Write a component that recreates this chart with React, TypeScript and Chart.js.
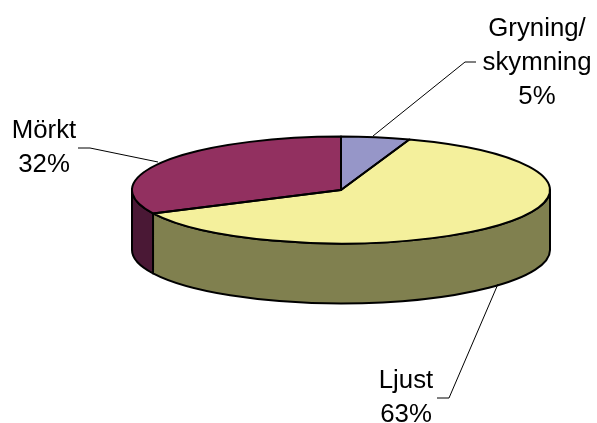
import React, { useEffect, useRef } from "react";
import { Chart, registerables } from "chart.js";

Chart.register(...registerables);

const categories = ["Gryning/\nskymning", "Ljust", "Mörkt"];
const shares = [5.3, 62.5, 32.2];
const topColors = ["#9696C8", "#F4F09C", "#923060"];
const wallColors = ["#4B4B64", "#80804F", "#4A1835"];

const WIDTH = 597;
const HEIGHT = 423;
const CENTER_X = 341;
const CENTER_Y = 190;
const BASE_R = 100;
const RX = 209;
const RY = 53.5;
const DEPTH = 60;
const FONT = '25.8px "Liberation Sans", Arial, sans-serif';
const LINE_H = 34;
const OUTLINE = 2;

const labelLayout = [
  { x: 537, y: 36, leader: [[373, 136], [465, 62], [476, 62]] },
  { x: 406, y: 388, leader: [[498, 284], [449, 398], [437, 398]] },
  { x: 44, y: 138, leader: [[158, 162], [90, 148], [78, 148]] },
];

const pie3d = {
  id: "pie3d",
  beforeDatasetsDraw(chart: any) {
    const ctx = chart.ctx;
    const arcs = chart.getDatasetMeta(0).data;
    ctx.save();
    ctx.lineWidth = OUTLINE;
    ctx.strokeStyle = "#000";
    ctx.lineJoin = "round";
    arcs.forEach((arc: any, i: number) => {
      const p = arc.getProps(["x", "y", "startAngle", "endAngle"], true);
      const a0 = Math.max(p.startAngle, 0);
      const a1 = Math.min(p.endAngle, Math.PI);
      if (a1 <= a0) return;
      ctx.beginPath();
      ctx.ellipse(p.x, p.y + DEPTH, RX, RY, 0, a0, a1);
      ctx.ellipse(p.x, p.y, RX, RY, 0, a1, a0, true);
      ctx.closePath();
      ctx.fillStyle = wallColors[i];
      ctx.fill();
      ctx.stroke();
    });
    ctx.restore();
    ctx.save();
    ctx.translate(CENTER_X, CENTER_Y);
    ctx.scale(RX / BASE_R, RY / BASE_R);
    ctx.translate(-CENTER_X, -CENTER_Y);
  },
  afterDatasetsDraw(chart: any) {
    const ctx = chart.ctx;
    ctx.restore();
    const arcs = chart.getDatasetMeta(0).data;
    ctx.save();
    ctx.lineWidth = OUTLINE;
    ctx.strokeStyle = "#000";
    ctx.lineJoin = "round";
    arcs.forEach((arc: any) => {
      const p = arc.getProps(["x", "y", "startAngle", "endAngle"], true);
      ctx.beginPath();
      ctx.moveTo(p.x, p.y);
      ctx.ellipse(p.x, p.y, RX, RY, 0, p.startAngle, p.endAngle);
      ctx.closePath();
      ctx.stroke();
    });
    ctx.restore();

    ctx.save();
    ctx.strokeStyle = "#000";
    ctx.lineWidth = 1;
    labelLayout.forEach((l) => {
      ctx.beginPath();
      l.leader.forEach(([x, y], k) => (k ? ctx.lineTo(x, y) : ctx.moveTo(x, y)));
      ctx.stroke();
    });
    ctx.fillStyle = "#000";
    ctx.font = FONT;
    ctx.textAlign = "center";
    ctx.textBaseline = "alphabetic";
    categories.forEach((c, i) => {
      const lines = [...c.split("\n"), `${Math.round(shares[i])}%`];
      lines.forEach((t, k) => ctx.fillText(t, labelLayout[i].x, labelLayout[i].y + k * LINE_H));
    });
    ctx.restore();
  },
};

export default function App() {
  const ref = useRef<HTMLCanvasElement>(null);
  useEffect(() => {
    const chart = new Chart(ref.current!, {
      type: "pie",
      data: {
        labels: categories,
        datasets: [
          {
            data: shares,
            backgroundColor: topColors,
            borderWidth: 0,
            clip: false,
          } as any,
        ],
      },
      options: {
        animation: false,
        responsive: false,
        layout: {
          padding: {
            left: CENTER_X - BASE_R,
            right: WIDTH - CENTER_X - BASE_R,
            top: CENTER_Y - BASE_R,
            bottom: HEIGHT - CENTER_Y - BASE_R,
          },
        },
        plugins: { legend: { display: false }, tooltip: { enabled: false } },
      },
      plugins: [pie3d],
    });
    return () => chart.destroy();
  }, []);
  return (
    <div style={{ position: "absolute", left: 0, top: 0 }}>
      <canvas ref={ref} width={WIDTH} height={HEIGHT} style={{ display: "block" }} />
    </div>
  );
}
